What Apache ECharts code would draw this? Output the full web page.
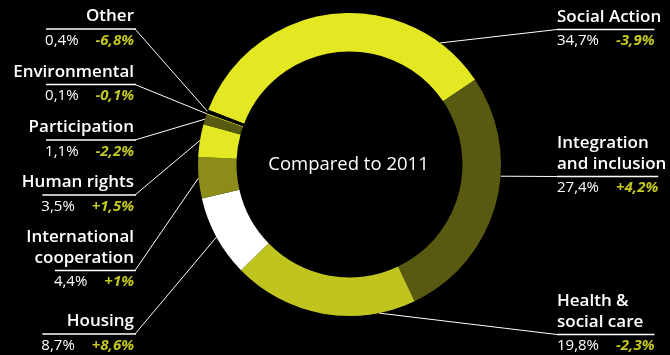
<!DOCTYPE html>
<html>
<head>
<meta charset="utf-8">
<script src="https://cdn.jsdelivr.net/npm/echarts@6/dist/echarts.min.js"></script>
<style>
html,body{margin:0;padding:0;background:#000;}
#chart{width:670px;height:355px;}
</style>
</head>
<body>
<div id="chart"></div>
<script>
// ---- data ----
const categories = ['Social Action', 'Integration and inclusion', 'Health & social care', 'Housing', 'International cooperation', 'Human rights', 'Participation', 'Environmental', 'Other'];
const displayNames = ['Social Action', 'Integration\nand inclusion', 'Health &\nsocial care', 'Housing', 'International\ncooperation', 'Human rights', 'Participation', 'Environmental', 'Other'];
const shares = [34.7, 27.4, 19.8, 8.7, 4.4, 3.5, 1.1, 0.1, 0.4];
const shareLabels = ['34,7%', '27,4%', '19,8%', '8,7%', '4,4%', '3,5%', '1,1%', '0,1%', '0,4%'];
const changeLabels = ['-3,9%', '+4,2%', '-2,3%', '+8,6%', '+1%', '+1,5%', '-2,2%', '-0,1%', '-6,8%'];
const centerText = 'Compared to 2011';

// ---- style / layout ----
const sliceColors = ['#e4e822', '#575a10', '#c0c41e', '#ffffff', '#8b8d18', '#e4e822', '#575a10', '#e4e822', '#000000'];
const labelSide = ['right', 'right', 'right', 'left', 'left', 'left', 'left', 'left', 'left'];
const underlineY = [29.5, 176.5, 334.5, 334, 270.5, 195, 140, 84.5, 29];
const anchorFrac = [0.845, 0.39, 0.2, 0.5, 0.5, 0.5, 0.5, 0.5, 0.5];
const FONT = '"Open Sans", "Noto Sans", sans-serif';
const changeColor = '#c3c71f';
const leftEdge = 135, rightEdge = 557, gap = 17;

const chart = echarts.init(document.getElementById('chart'), null, {renderer: 'canvas'});
chart.setOption({
  backgroundColor: '#000',
  animation: false,
  series: [{
    type: 'pie',
    silent: true,
    center: [349.5, 164.5],
    radius: [113, 151.5],
    startAngle: 158.8,
    clockwise: true,
    label: {show: false},
    labelLine: {show: false},
    emphasis: {disabled: true},
    itemStyle: {borderWidth: 0},
    data: categories.map((c, i) => ({name: c, value: shares[i], itemStyle: {color: sliceColors[i]}}))
  }]
});

const cv = document.createElement('canvas').getContext('2d');
function tw(text, font) { cv.font = font; return cv.measureText(text).width; }

const data = chart.getModel().getSeriesByIndex(0).getData();
const graphics = [];
graphics.push({
  type: 'text', x: 348.5, y: 165, silent: true,
  style: {text: centerText, fill: '#fff', font: '18.5px ' + FONT, textAlign: 'center', textVerticalAlign: 'middle'}
});
categories.forEach((c, i) => {
  const L = data.getItemLayout(i);
  const a = L.startAngle + anchorFrac[i] * (L.endAngle - L.startAngle);
  const px = L.cx + L.r * Math.cos(a), py = L.cy + L.r * Math.sin(a);
  const uy = underlineY[i];
  const w = tw(shareLabels[i], '15px ' + FONT) + gap + tw(changeLabels[i], 'italic bold 15px ' + FONT);
  const left = labelSide[i] === 'left';
  const ex = left ? leftEdge : rightEdge;
  const x0 = left ? leftEdge - w : rightEdge, x1 = left ? leftEdge : rightEdge + w;
  // leader line
  graphics.push({type: 'line', silent: true, shape: {x1: px, y1: py, x2: ex, y2: uy}, style: {stroke: '#fff', lineWidth: 1}});
  // underline
  graphics.push({type: 'line', silent: true, shape: {x1: x0, y1: uy, x2: x1 + (left ? 1 : 0), y2: uy}, style: {stroke: '#fff', lineWidth: 1.5}});
  // name
  graphics.push({
    type: 'text', silent: true, x: left ? leftEdge - 1 : rightEdge, y: uy - 2,
    style: {text: displayNames[i], fill: '#fff', font: '600 17px ' + FONT, lineHeight: 21,
      textAlign: left ? 'right' : 'left', textVerticalAlign: 'bottom'}
  });
  // values row
  graphics.push({
    type: 'text', silent: true, x: left ? leftEdge - 1 : rightEdge, y: uy + 11.5,
    style: {
      text: '{v|' + shareLabels[i] + '}{g| }{d|' + changeLabels[i] + '}',
      textAlign: left ? 'right' : 'left', textVerticalAlign: 'middle',
      rich: {
        v: {fill: '#fff', font: '15px ' + FONT},
        g: {width: gap, font: '15px ' + FONT},
        d: {fill: changeColor, font: 'italic bold 15px ' + FONT}
      }
    }
  });
});
chart.setOption({graphic: {elements: graphics}});
</script>
</body>
</html>
